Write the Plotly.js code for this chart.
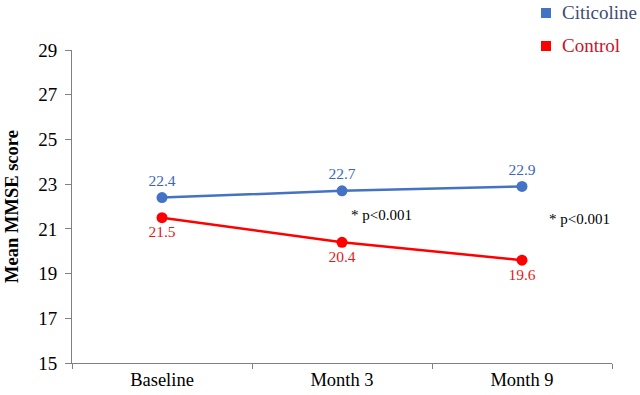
<!DOCTYPE html>
<html>
<head>
<meta charset="utf-8">
<script src="https://cdn.plot.ly/plotly-3.0.1.min.js"></script>
<style>html,body{margin:0;padding:0;background:#fff;}#chart{width:640px;height:395px;}</style>
</head>
<body>
<div id="chart"></div>
<script>
const categories = ["Baseline", "Month 3", "Month 9"];
const citicoline = [22.4, 22.7, 22.9];
const control = [21.5, 20.4, 19.6];
const seriesNames = ["Citicoline", "Control"];
const pNotes = ["* p<0.001", "* p<0.001"];
const yTicks = [15, 17, 19, 21, 23, 25, 27, 29];

const BLUE = "#4472C4";
const RED = "#FF0000";
const COLORS = [BLUE, RED];
const LEGEND_TEXT = ["#3E4C72", "#C8142A"];
const FONT = "Liberation Serif, Times New Roman, serif";
const W = 640, H = 395;

const traces = [
  {
    x: categories, y: citicoline, mode: "lines+markers+text", showlegend: false, name: seriesNames[0],
    line: {color: BLUE, width: 2.5}, marker: {color: BLUE, size: 11},
    text: citicoline.map(v => v.toFixed(1)), textposition: "top center",
    textfont: {family: FONT, size: 15.5, color: "#3A66B5"}, cliponaxis: false
  },
  {
    x: categories, y: control, mode: "lines+markers+text", showlegend: false, name: seriesNames[1],
    line: {color: RED, width: 2.5}, marker: {color: RED, size: 11},
    text: control.map(v => v.toFixed(1)), textposition: "bottom center",
    textfont: {family: FONT, size: 15.5, color: "#E31A1A"}, cliponaxis: false
  }
];

// legend drawn as paper-referenced square + text (a legend box would shrink the plot)
const legendRows = [13, 46];
const shapes = legendRows.map((py, i) => ({
  type: "rect", xref: "paper", yref: "paper",
  x0: 541 / W, x1: 551 / W, y0: 1 - (py + 5) / H, y1: 1 - (py - 5) / H,
  fillcolor: COLORS[i], line: {width: 0}
}));
const legendAnn = legendRows.map((py, i) => ({
  xref: "paper", yref: "paper", x: 560 / W, y: 1 - py / H,
  xanchor: "left", yanchor: "middle", text: seriesNames[i], showarrow: false,
  font: {family: FONT, size: 19, color: LEGEND_TEXT[i]}
}));

const layout = {
  width: W, height: H,
  margin: {l: 0, r: 0, t: 0, b: 0},
  paper_bgcolor: "#fff", plot_bgcolor: "#fff",
  showlegend: false,
  font: {family: FONT, size: 18, color: "#000"},
  xaxis: {
    type: "category", range: [-0.5, 2.5], tickson: "boundaries",
    domain: [72 / W, 612 / W],
    showline: true, linecolor: "#808080", linewidth: 1,
    ticks: "outside", ticklen: 5, tickcolor: "#808080",
    showgrid: false, zeroline: false, automargin: false,
    tickfont: {family: FONT, size: 18.5, color: "#000"}
  },
  yaxis: {
    range: [15, 29], tickvals: yTicks, ticktext: yTicks.map(String),
    domain: [32 / H, 345 / H],
    showline: true, linecolor: "#808080", linewidth: 1,
    ticks: "outside", ticklen: 6, tickcolor: "#808080",
    showgrid: false, zeroline: false, automargin: false,
    ticklabelstandoff: 4,
    tickfont: {family: FONT, size: 19, color: "#000"},
    title: {text: "<b>Mean MMSE score</b>", font: {family: FONT, size: 18.5, color: "#000"}, standoff: 14}
  },
  shapes: shapes,
  annotations: [
    {x: 1.22, y: 21.6, xref: "x", yref: "y", text: pNotes[0], showarrow: false,
     font: {family: FONT, size: 15, color: "#000"}},
    {x: 2.32, y: 21.45, xref: "x", yref: "y", text: pNotes[1], showarrow: false,
     font: {family: FONT, size: 15, color: "#000"}}
  ].concat(legendAnn)
};

Plotly.newPlot("chart", traces, layout, {displayModeBar: false, staticPlot: true});
</script>
</body>
</html>
